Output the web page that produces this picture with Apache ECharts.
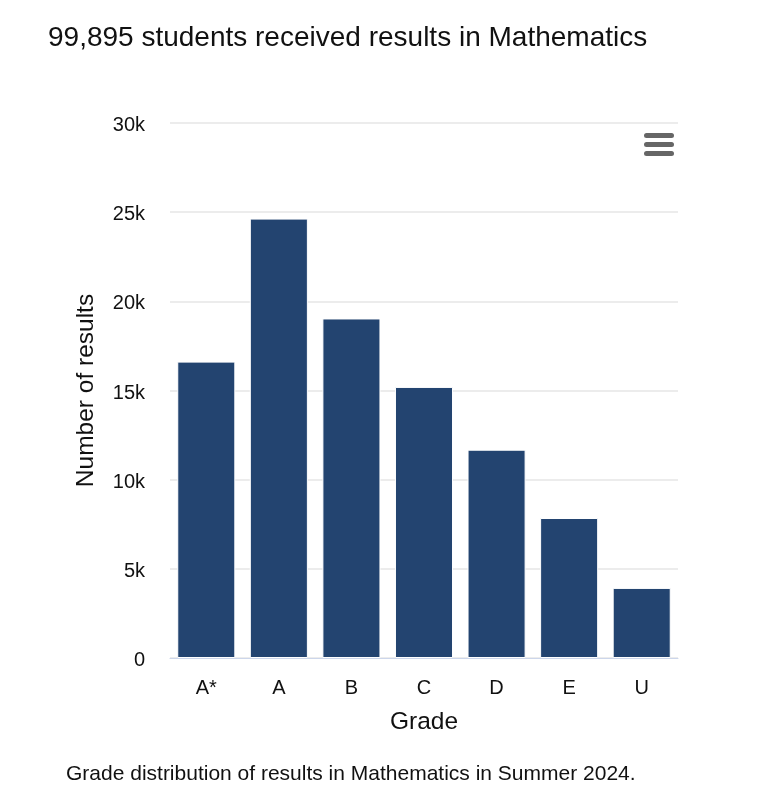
<!DOCTYPE html>
<html><head><meta charset="utf-8">
<script src="https://cdn.jsdelivr.net/npm/echarts@6/dist/echarts.min.js"></script>
<style>html,body{margin:0;padding:0;background:#fff}#c{width:757px;height:798px}</style>
</head><body><div id="c"></div>
<script>
const categories = ['A*', 'A', 'B', 'C', 'D', 'E', 'U'];
const results = [16620, 24640, 19040, 15200, 11680, 7850, 3930];
const yTicks = { min: 0, max: 30000, interval: 5000 };

const chart = echarts.init(document.getElementById('c'));
const font = 'Liberation Sans, Arial, sans-serif';
chart.setOption({
  animation: false,
  title: {
    text: '99,895 students received results in Mathematics',
    left: 43, top: 19,
    textStyle: { fontFamily: font, fontSize: 28, fontWeight: 'normal', color: '#111' }
  },
  graphic: [
    { type: 'text', left: 66, top: 764, style: { text: 'Grade distribution of results in Mathematics in Summer 2024.', font: '21px ' + font, fill: '#111' } },
    { type: 'rect', shape: { x: 644, y: 133, width: 30, height: 5, r: 2.5 }, style: { fill: '#666' } },
    { type: 'rect', shape: { x: 644, y: 142, width: 30, height: 5, r: 2.5 }, style: { fill: '#666' } },
    { type: 'rect', shape: { x: 644, y: 151, width: 30, height: 5, r: 2.5 }, style: { fill: '#666' } }
  ],
  grid: { left: 170, right: 79, top: 123, bottom: 140, containLabel: false },
  xAxis: {
    type: 'category', data: categories,
    name: 'Grade', nameLocation: 'middle', nameGap: 52,
    nameTextStyle: { fontFamily: font, fontSize: 24.5, color: '#111' },
    axisLine: { lineStyle: { color: '#ccd6eb', width: 1 } },
    axisTick: { show: false },
    axisLabel: { margin: 20, fontFamily: font, fontSize: 20, color: '#111' }
  },
  yAxis: {
    type: 'value', min: yTicks.min, max: yTicks.max, interval: yTicks.interval,
    name: 'Number of results', nameLocation: 'middle', nameGap: 71,
    nameTextStyle: { fontFamily: font, fontSize: 24.5, color: '#111' },
    axisLine: { show: false }, axisTick: { show: false },
    splitLine: { lineStyle: { color: '#e6e6e6', width: 1.5 } },
    axisLabel: { margin: 25, fontFamily: font, fontSize: 20, color: '#111',
      rich: { t: { fontFamily: font, fontSize: 20, color: '#111', padding: [5, 0, 0, 0] } },
      formatter: v => '{t|' + (v === 0 ? '0' : (v / 1000) + 'k') + '}' }
  },
  series: [{
    type: 'bar', data: results, barCategoryGap: '20%',
    itemStyle: { color: '#234470', borderColor: '#ffffff', borderWidth: 1 }
  }]
});
</script></body></html>
